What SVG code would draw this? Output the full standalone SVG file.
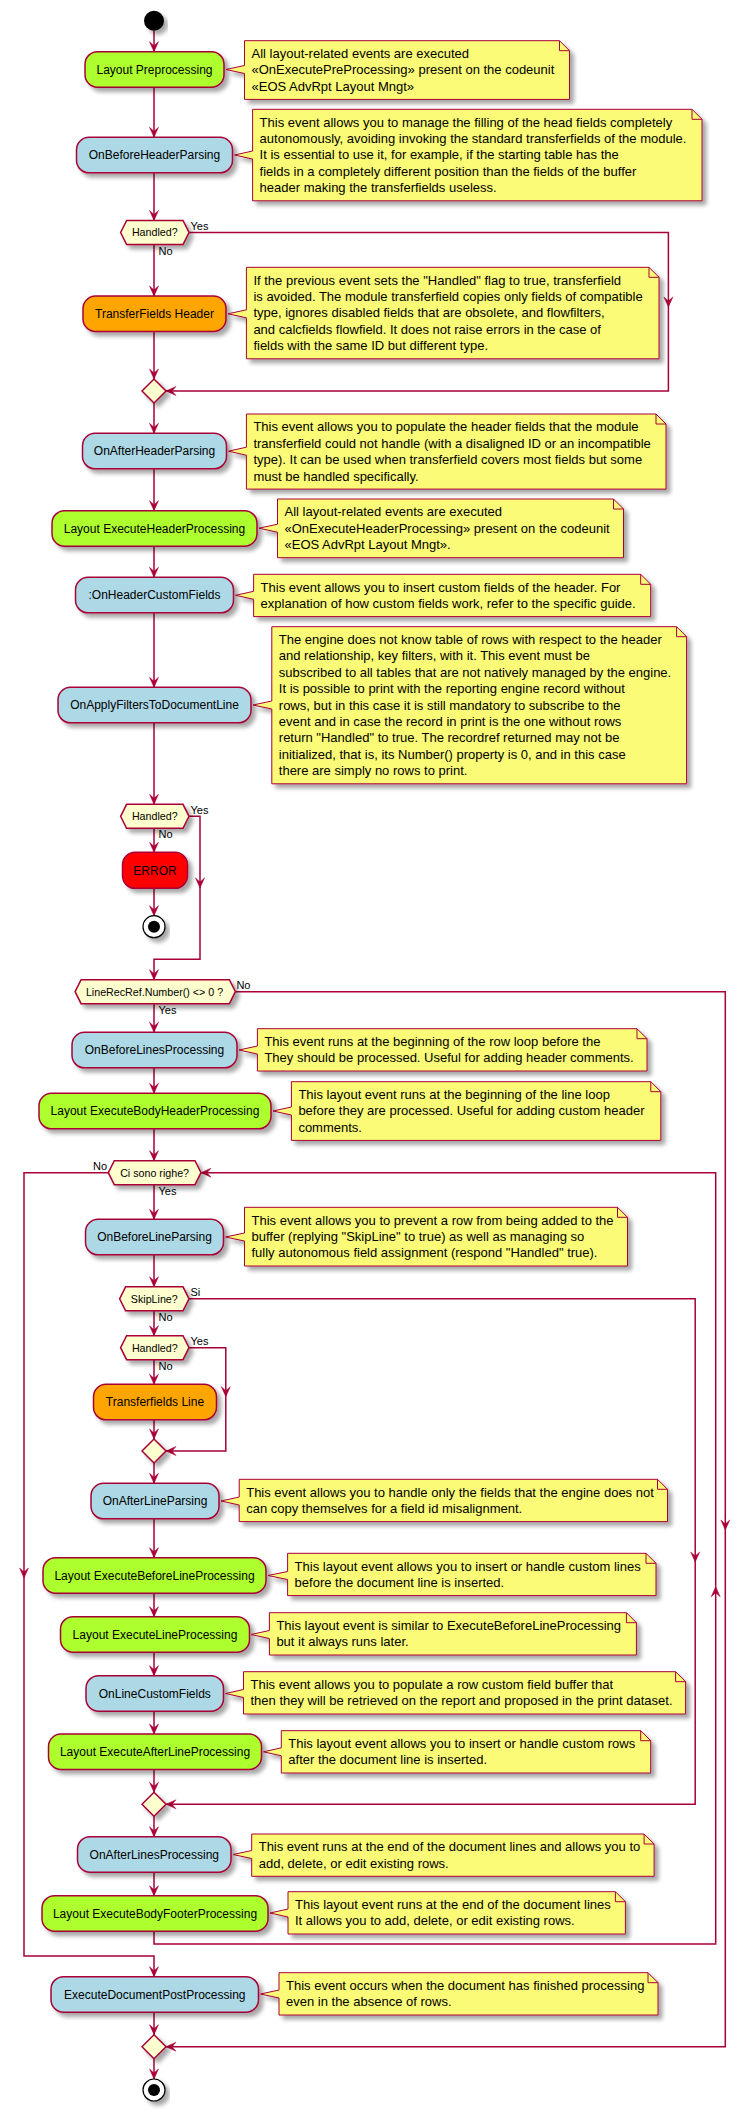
<svg xmlns="http://www.w3.org/2000/svg" width="750" height="2111" viewBox="0 0 750 2111">
<defs>
<filter id="sh" x="-10%" y="-20%" width="130%" height="160%">
<feGaussianBlur in="SourceAlpha" stdDeviation="2"/>
<feOffset dx="4" dy="4" result="o"/>
<feComponentTransfer><feFuncA type="linear" slope="0.35"/></feComponentTransfer>
<feMerge><feMergeNode/><feMergeNode in="SourceGraphic"/></feMerge>
</filter>
<marker id="ah" markerUnits="userSpaceOnUse" markerWidth="14" markerHeight="14" viewBox="-12 -7 14 14" refX="0" refY="0" orient="auto">
<path d="M0,0 L-10,-4.5 L-6,0 L-10,4.5 Z" fill="#A80036" stroke="#A80036" stroke-width="0.5"/>
</marker>
<style>
.bx{stroke:#A80036;stroke-width:1.5;filter:url(#sh)}
.g{fill:#ADFF2F}.b{fill:#ADD8E6}.o{fill:#FFA500}.r{fill:#FF0000}
.note{fill:#FBFB77;stroke:#A80036;stroke-width:1;filter:url(#sh)}
.fold{fill:none;stroke:#A80036;stroke-width:1}
.hex{fill:#FEFECE;stroke:#A80036;stroke-width:1.5;filter:url(#sh)}
.ln{fill:none;stroke:#A80036;stroke-width:1.5}
.ar{marker-end:url(#ah)}
text{font-family:"Liberation Sans",Arial,sans-serif;fill:#000}
.bt{font-size:12px;text-anchor:middle}
.nt{font-size:13px}
.ht{font-size:10.7px;text-anchor:middle}
.el{font-size:11px}
</style>
</defs>
<rect width="750" height="2111" fill="#FFFFFF"/>

<g id="connectors">
<path class="ln ar" d="M154,30.7 V51.7"/>
<path class="ln ar" d="M154,87.2 V137.3"/>
<path class="ln ar" d="M154,172.8 V220.5"/>
<path class="ln ar" d="M154,244.5 V296"/>
<path class="ln ar" d="M154,331.5 V379"/>
<path class="ln ar" d="M189,232.5 H668.4 V307"/>
<path class="ln ar" d="M668.4,307 V391 H166"/>
<path class="ln ar" d="M154,403 V433.3"/>
<path class="ln ar" d="M154,468.8 V510.7"/>
<path class="ln ar" d="M154,546.2 V577.3"/>
<path class="ln ar" d="M154,612.8 V687.3"/>
<path class="ln ar" d="M154,722.8 V804.3"/>
<path class="ln ar" d="M154,828.3 V852.3"/>
<path class="ln ar" d="M154,888.3 V915.7"/>
<path class="ln ar" d="M189,816.3 H200 V888"/>
<path class="ln ar" d="M200,888 V959.3 H154 V979.7"/>
<path class="ln ar" d="M154,1003.7 V1032.3"/>
<path class="ln ar" d="M154,1067.8 V1093.3"/>
<path class="ln ar" d="M154,1128.8 V1160.7"/>
<path class="ln ar" d="M154,1184.7 V1219.3"/>
<path class="ln ar" d="M154,1254.8 V1286.8"/>
<path class="ln ar" d="M154,1310.8 V1335.7"/>
<path class="ln ar" d="M154,1359.7 V1384.3"/>
<path class="ln ar" d="M154,1419.8 V1439"/>
<path class="ln ar" d="M189,1347.7 H225.8 V1396.7"/>
<path class="ln ar" d="M225.8,1396.7 V1451 H166"/>
<path class="ln ar" d="M154,1463 V1483.3"/>
<path class="ln ar" d="M154,1518.8 V1557.7"/>
<path class="ln ar" d="M154,1593.2 V1616.7"/>
<path class="ln ar" d="M154,1652.2 V1675.7"/>
<path class="ln ar" d="M154,1711.2 V1734"/>
<path class="ln ar" d="M154,1769.5 V1792.3"/>
<path class="ln ar" d="M189,1298.8 H695.2 V1562"/>
<path class="ln ar" d="M695.2,1562 V1804.3 H166"/>
<path class="ln ar" d="M154,1816.3 V1836.7"/>
<path class="ln ar" d="M154,1872.2 V1895.7"/>
<path class="ln ar" d="M154,1931.2 V1944 H715.7 V1586.7"/>
<path class="ln ar" d="M715.7,1586.7 V1172.7 H201"/>
<path class="ln ar" d="M108.3,1172.7 H24 V1578"/>
<path class="ln ar" d="M24,1578 V1956 H154 V1976.7"/>
<path class="ln ar" d="M235.4,991.7 H725.3 V1530"/>
<path class="ln ar" d="M725.3,1530 V2046.7 H166"/>
<path class="ln ar" d="M154,2012.2 V2034.7"/>
<path class="ln ar" d="M154,2058.7 V2079"/>
<text class="el" x="190.5" y="230">Yes</text>
<text class="el" x="158.5" y="255">No</text>
<text class="el" x="190.5" y="813.8">Yes</text>
<text class="el" x="158.5" y="838">No</text>
<text class="el" x="236.4" y="989.2">No</text>
<text class="el" x="158.5" y="1014">Yes</text>
<text class="el" x="107" y="1169.5" text-anchor="end">No</text>
<text class="el" x="158.5" y="1195">Yes</text>
<text class="el" x="190.5" y="1296.3">Si</text>
<text class="el" x="158.5" y="1320.8">No</text>
<text class="el" x="190.5" y="1345.2">Yes</text>
<text class="el" x="158.5" y="1369.7">No</text>
</g>

<g id="start"><circle cx="154" cy="20.7" r="10" fill="#000" filter="url(#sh)"/></g>

<g id="n_layoutpre"><rect class="bx g" x="85" y="51.7" width="139" height="35.5" rx="12.5"/><text class="bt" x="154.5" y="73.8">Layout Preprocessing</text></g>
<g id="note1"><path class="note" d="M244.5,40.7 H559.5 L569.5,50.7 V99.4 H244.5 V73.5 L226,69.5 L244.5,65.5 Z"/><path class="fold" d="M559.5,40.7 V50.7 H569.5"/>
<text class="nt" x="251.5" y="58"><tspan x="251.5">All layout-related events are executed</tspan><tspan x="251.5" dy="16.4">«OnExecutePreProcessing» present on the codeunit</tspan><tspan x="251.5" dy="16.4">«EOS AdvRpt Layout Mngt»</tspan></text></g>

<g id="n_beforeheader"><rect class="bx b" x="76.5" y="137.3" width="156" height="35.5" rx="12.5"/><text class="bt" x="154.5" y="159.4">OnBeforeHeaderParsing</text></g>
<g id="note2"><path class="note" d="M252.6,109.3 H692 L702,119.3 V200.8 H252.6 V159 L234.5,155 L252.6,151 Z"/><path class="fold" d="M692,109.3 V119.3 H702"/>
<text class="nt" x="259.6" y="126.6"><tspan x="259.6">This event allows you to manage the filling of the head fields completely</tspan><tspan x="259.6" dy="16.4">autonomously, avoiding invoking the standard transferfields of the module.</tspan><tspan x="259.6" dy="16.4">It is essential to use it, for example, if the starting table has the</tspan><tspan x="259.6" dy="16.4">fields in a completely different position than the fields of the buffer</tspan><tspan x="259.6" dy="16.4">header making the transferfields useless.</tspan></text></g>

<g id="d_handled1"><path class="hex" d="M120.6,232.5 L126.6,220.5 H183 L189,232.5 L183,244.5 H126.6 Z"/><text class="ht" x="154.8" y="236.3">Handled?</text></g>

<g id="n_tfheader"><rect class="bx o" x="83" y="296" width="143" height="35.5" rx="12.5"/><text class="bt" x="154.5" y="318.1">TransferFields Header</text></g>
<g id="note3"><path class="note" d="M246.4,267.3 H649 L659,277.3 V358.8 H246.4 V317.8 L228,313.8 L246.4,309.8 Z"/><path class="fold" d="M649,267.3 V277.3 H659"/>
<text class="nt" x="253.4" y="284.6"><tspan x="253.4">If the previous event sets the "Handled" flag to true, transferfield</tspan><tspan x="253.4" dy="16.4">is avoided. The module transferfield copies only fields of compatible</tspan><tspan x="253.4" dy="16.4">type, ignores disabled fields that are obsolete, and flowfilters,</tspan><tspan x="253.4" dy="16.4">and calcfields flowfield. It does not raise errors in the case of</tspan><tspan x="253.4" dy="16.4">fields with the same ID but different type.</tspan></text></g>

<g id="merge1"><path class="hex" d="M154,379 L166,391 L154,403 L142,391 Z"/></g>

<g id="n_afterheader"><rect class="bx b" x="82.5" y="433.3" width="144" height="35.5" rx="12.5"/><text class="bt" x="154.5" y="455.4">OnAfterHeaderParsing</text></g>
<g id="note4"><path class="note" d="M246.4,414 H656 L666,424 V489.1 H246.4 V455.2 L228.5,451.2 L246.4,447.2 Z"/><path class="fold" d="M656,414 V424 H666"/>
<text class="nt" x="253.4" y="431.3"><tspan x="253.4">This event allows you to populate the header fields that the module</tspan><tspan x="253.4" dy="16.4">transferfield could not handle (with a disaligned ID or an incompatible</tspan><tspan x="253.4" dy="16.4">type). It can be used when transferfield covers most fields but some</tspan><tspan x="253.4" dy="16.4">must be handled specifically.</tspan></text></g>

<g id="n_layoutheader"><rect class="bx g" x="52" y="510.7" width="205" height="35.5" rx="12.5"/><text class="bt" x="154.5" y="532.8">Layout ExecuteHeaderProcessing</text></g>
<g id="note5"><path class="note" d="M277.5,499 H613.5 L623.5,509 V557.7 H277.5 V532.2 L259,528.2 L277.5,524.2 Z"/><path class="fold" d="M613.5,499 V509 H623.5"/>
<text class="nt" x="284.5" y="516.3"><tspan x="284.5">All layout-related events are executed</tspan><tspan x="284.5" dy="16.4">«OnExecuteHeaderProcessing» present on the codeunit</tspan><tspan x="284.5" dy="16.4">«EOS AdvRpt Layout Mngt».</tspan></text></g>

<g id="n_headercustom"><rect class="bx b" x="75.5" y="577.3" width="158" height="35.5" rx="12.5"/><text class="bt" x="154.5" y="599.4">:OnHeaderCustomFields</text></g>
<g id="note6"><path class="note" d="M253.6,574.3 H640.7 L650.7,584.3 V616.6 H253.6 V599.3 L235.5,595.3 L253.6,591.3 Z"/><path class="fold" d="M640.7,574.3 V584.3 H650.7"/>
<text class="nt" x="260.6" y="591.6"><tspan x="260.6">This event allows you to insert custom fields of the header. For</tspan><tspan x="260.6" dy="16.4">explanation of how custom fields work, refer to the specific guide.</tspan></text></g>

<g id="n_applyfilters"><rect class="bx b" x="58" y="687.3" width="193" height="35.5" rx="12.5"/><text class="bt" x="154.5" y="709.4">OnApplyFiltersToDocumentLine</text></g>
<g id="note7"><path class="note" d="M271.8,626.7 H676.6 L686.6,636.7 V783.8 H271.8 V709 L253,705 L271.8,701 Z"/><path class="fold" d="M676.6,626.7 V636.7 H686.6"/>
<text class="nt" x="278.8" y="644"><tspan x="278.8">The engine does not know table of rows with respect to the header</tspan><tspan x="278.8" dy="16.4">and relationship, key filters, with it. This event must be</tspan><tspan x="278.8" dy="16.4">subscribed to all tables that are not natively managed by the engine.</tspan><tspan x="278.8" dy="16.4">It is possible to print with the reporting engine record without</tspan><tspan x="278.8" dy="16.4">rows, but in this case it is still mandatory to subscribe to the</tspan><tspan x="278.8" dy="16.4">event and in case the record in print is the one without rows</tspan><tspan x="278.8" dy="16.4">return "Handled" to true. The recordref returned may not be</tspan><tspan x="278.8" dy="16.4">initialized, that is, its Number() property is 0, and in this case</tspan><tspan x="278.8" dy="16.4">there are simply no rows to print.</tspan></text></g>

<g id="d_handled2"><path class="hex" d="M120.6,816.3 L126.6,804.3 H183 L189,816.3 L183,828.3 H126.6 Z"/><text class="ht" x="154.8" y="820.1">Handled?</text></g>

<g id="n_error"><rect class="bx r" x="122.5" y="852.3" width="65" height="36" rx="12.5"/><text class="bt" x="155" y="874.6">ERROR</text></g>

<g id="stop1"><circle cx="154" cy="926.7" r="11" fill="#FFFFFF" stroke="#000" stroke-width="1.2" filter="url(#sh)"/><circle cx="154" cy="926.7" r="6" fill="#000"/></g>

<g id="d_linerecref"><path class="hex" d="M75.1,991.7 L81.1,979.7 H229.4 L235.4,991.7 L229.4,1003.7 H81.1 Z"/><text class="ht" x="154.5" y="995.5">LineRecRef.Number() &lt;&gt; 0 ?</text></g>

<g id="n_beforelines"><rect class="bx b" x="72" y="1032.3" width="165" height="35.5" rx="12.5"/><text class="bt" x="154.5" y="1054.4">OnBeforeLinesProcessing</text></g>
<g id="note8"><path class="note" d="M257.4,1028.7 H637 L647,1038.7 V1071 H257.4 V1054 L239,1050 L257.4,1046 Z"/><path class="fold" d="M637,1028.7 V1038.7 H647"/>
<text class="nt" x="264.4" y="1046"><tspan x="264.4">This event runs at the beginning of the row loop before the</tspan><tspan x="264.4" dy="16.4">They should be processed. Useful for adding header comments.</tspan></text></g>

<g id="n_bodyheader"><rect class="bx g" x="39" y="1093.3" width="232" height="35.5" rx="12.5"/><text class="bt" x="155" y="1115.4">Layout ExecuteBodyHeaderProcessing</text></g>
<g id="note9"><path class="note" d="M291.4,1081.7 H650.8 L660.8,1091.7 V1140.4 H291.4 V1115 L273,1111 L291.4,1107 Z"/><path class="fold" d="M650.8,1081.7 V1091.7 H660.8"/>
<text class="nt" x="298.4" y="1099"><tspan x="298.4">This layout event runs at the beginning of the line loop</tspan><tspan x="298.4" dy="16.4">before they are processed. Useful for adding custom header</tspan><tspan x="298.4" dy="16.4">comments.</tspan></text></g>

<g id="d_cisono"><path class="hex" d="M108.3,1172.7 L114.3,1160.7 H195 L201,1172.7 L195,1184.7 H114.3 Z"/><text class="ht" x="154.6" y="1176.5">Ci sono righe?</text></g>

<g id="n_beforeline"><rect class="bx b" x="85.5" y="1219.3" width="138" height="35.5" rx="12.5"/><text class="bt" x="154.5" y="1241.4">OnBeforeLineParsing</text></g>
<g id="note10"><path class="note" d="M244.5,1207.3 H617.5 L627.5,1217.3 V1266 H244.5 V1241 L225.5,1237 L244.5,1233 Z"/><path class="fold" d="M617.5,1207.3 V1217.3 H627.5"/>
<text class="nt" x="251.5" y="1224.6"><tspan x="251.5">This event allows you to prevent a row from being added to the</tspan><tspan x="251.5" dy="16.4">buffer (replying "SkipLine" to true) as well as managing so</tspan><tspan x="251.5" dy="16.4">fully autonomous field assignment (respond "Handled" true).</tspan></text></g>

<g id="d_skipline"><path class="hex" d="M119.6,1298.8 L125.6,1286.8 H183 L189,1298.8 L183,1310.8 H125.6 Z"/><text class="ht" x="154.3" y="1302.6">SkipLine?</text></g>

<g id="d_handled3"><path class="hex" d="M120.6,1347.7 L126.6,1335.7 H183 L189,1347.7 L183,1359.7 H126.6 Z"/><text class="ht" x="154.8" y="1351.5">Handled?</text></g>

<g id="n_tfline"><rect class="bx o" x="93.5" y="1384.3" width="123" height="35.5" rx="12.5"/><text class="bt" x="155" y="1406.4">Transferfields Line</text></g>

<g id="merge2"><path class="hex" d="M154,1439 L166,1451 L154,1463 L142,1451 Z"/></g>

<g id="n_afterline"><rect class="bx b" x="91" y="1483.3" width="128" height="35.5" rx="12.5"/><text class="bt" x="155" y="1505.4">OnAfterLineParsing</text></g>
<g id="note11"><path class="note" d="M239.2,1479.3 H657.5 L667.5,1489.3 V1521.6 H239.2 V1505 L221,1501 L239.2,1497 Z"/><path class="fold" d="M657.5,1479.3 V1489.3 H667.5"/>
<text class="nt" x="246.2" y="1496.6"><tspan x="246.2">This event allows you to handle only the fields that the engine does not</tspan><tspan x="246.2" dy="16.4">can copy themselves for a field id misalignment.</tspan></text></g>

<g id="n_beforelineproc"><rect class="bx g" x="43" y="1557.7" width="223" height="35.5" rx="12.5"/><text class="bt" x="154.5" y="1579.8">Layout ExecuteBeforeLineProcessing</text></g>
<g id="note12"><path class="note" d="M287.6,1553.3 H646 L656,1563.3 V1595.6 H287.6 V1579.5 L268,1575.5 L287.6,1571.5 Z"/><path class="fold" d="M646,1553.3 V1563.3 H656"/>
<text class="nt" x="294.6" y="1570.6"><tspan x="294.6">This layout event allows you to insert or handle custom lines</tspan><tspan x="294.6" dy="16.4">before the document line is inserted.</tspan></text></g>

<g id="n_lineproc"><rect class="bx g" x="60.5" y="1616.7" width="189" height="35.5" rx="12.5"/><text class="bt" x="155" y="1638.8">Layout ExecuteLineProcessing</text></g>
<g id="note13"><path class="note" d="M269.4,1612.7 H626.4 L636.4,1622.7 V1655 H269.4 V1638.5 L251,1634.5 L269.4,1630.5 Z"/><path class="fold" d="M626.4,1612.7 V1622.7 H636.4"/>
<text class="nt" x="276.4" y="1630"><tspan x="276.4">This layout event is similar to ExecuteBeforeLineProcessing</tspan><tspan x="276.4" dy="16.4">but it always runs later.</tspan></text></g>

<g id="n_linecustom"><rect class="bx b" x="86" y="1675.7" width="137.5" height="35.5" rx="12.5"/><text class="bt" x="154.8" y="1697.8">OnLineCustomFields</text></g>
<g id="note14"><path class="note" d="M243.5,1671.7 H675.6 L685.6,1681.7 V1714 H243.5 V1697.5 L225.5,1693.5 L243.5,1689.5 Z"/><path class="fold" d="M675.6,1671.7 V1681.7 H685.6"/>
<text class="nt" x="250.5" y="1689"><tspan x="250.5">This event allows you to populate a row custom field buffer that</tspan><tspan x="250.5" dy="16.4">then they will be retrieved on the report and proposed in the print dataset.</tspan></text></g>

<g id="n_afterlineproc"><rect class="bx g" x="48.5" y="1734" width="213" height="35.5" rx="12.5"/><text class="bt" x="155" y="1756.1">Layout ExecuteAfterLineProcessing</text></g>
<g id="note15"><path class="note" d="M281.3,1730.7 H640.7 L650.7,1740.7 V1773 H281.3 V1755.8 L263.5,1751.8 L281.3,1747.8 Z"/><path class="fold" d="M640.7,1730.7 V1740.7 H650.7"/>
<text class="nt" x="288.3" y="1748"><tspan x="288.3">This layout event allows you to insert or handle custom rows</tspan><tspan x="288.3" dy="16.4">after the document line is inserted.</tspan></text></g>

<g id="merge3"><path class="hex" d="M154,1792.3 L166,1804.3 L154,1816.3 L142,1804.3 Z"/></g>

<g id="n_afterlines"><rect class="bx b" x="77.5" y="1836.7" width="153.5" height="35.5" rx="12.5"/><text class="bt" x="154.3" y="1858.8">OnAfterLinesProcessing</text></g>
<g id="note16"><path class="note" d="M251.7,1834 H644.1 L654.1,1844 V1876.3 H251.7 V1858.5 L233,1854.5 L251.7,1850.5 Z"/><path class="fold" d="M644.1,1834 V1844 H654.1"/>
<text class="nt" x="258.7" y="1851.3"><tspan x="258.7">This event runs at the end of the document lines and allows you to</tspan><tspan x="258.7" dy="16.4">add, delete, or edit existing rows.</tspan></text></g>

<g id="n_bodyfooter"><rect class="bx g" x="42" y="1895.7" width="226" height="35.5" rx="12.5"/><text class="bt" x="155" y="1917.8">Layout ExecuteBodyFooterProcessing</text></g>
<g id="note17"><path class="note" d="M288,1891.7 H615.4 L625.4,1901.7 V1934 H288 V1917 L270,1913 L288,1909 Z"/><path class="fold" d="M615.4,1891.7 V1901.7 H625.4"/>
<text class="nt" x="295" y="1909"><tspan x="295">This layout event runs at the end of the document lines</tspan><tspan x="295" dy="16.4">It allows you to add, delete, or edit existing rows.</tspan></text></g>

<g id="n_postproc"><rect class="bx b" x="51" y="1976.7" width="207.5" height="35.5" rx="12.5"/><text class="bt" x="154.8" y="1998.8">ExecuteDocumentPostProcessing</text></g>
<g id="note18"><path class="note" d="M279,1972.7 H648 L658,1982.7 V2015 H279 V1998 L260.5,1994 L279,1990 Z"/><path class="fold" d="M648,1972.7 V1982.7 H658"/>
<text class="nt" x="286" y="1990"><tspan x="286">This event occurs when the document has finished processing</tspan><tspan x="286" dy="16.4">even in the absence of rows.</tspan></text></g>

<g id="merge4"><path class="hex" d="M154,2034.7 L166,2046.7 L154,2058.7 L142,2046.7 Z"/></g>

<g id="stop2"><circle cx="154" cy="2090" r="11" fill="#FFFFFF" stroke="#000" stroke-width="1.2" filter="url(#sh)"/><circle cx="154" cy="2090" r="6" fill="#000"/></g>
</svg>
